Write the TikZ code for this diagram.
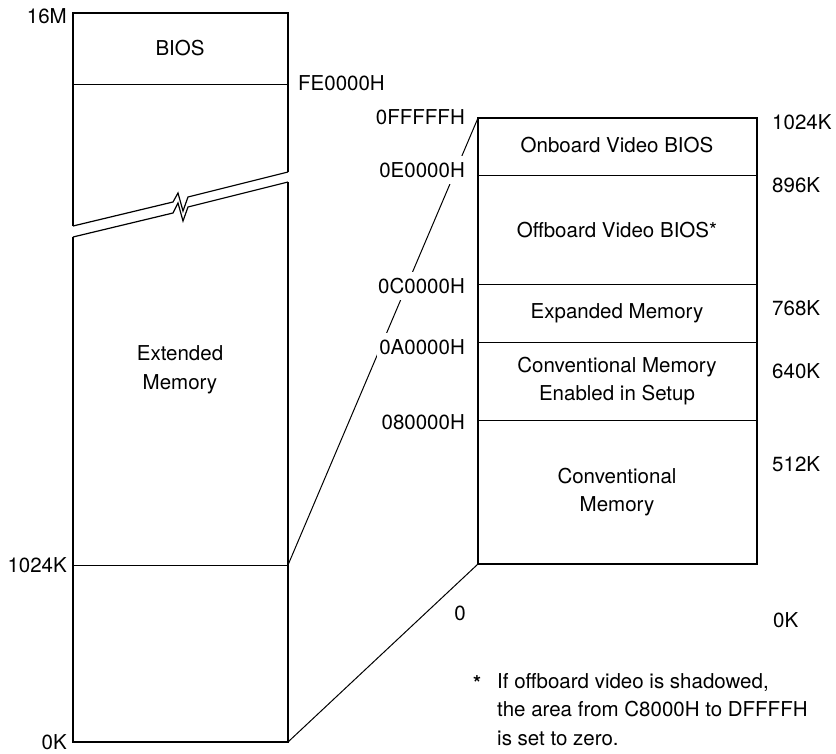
\documentclass[tikz,border=0pt]{standalone}
\usepackage{fontspec}
\setmainfont{TeX Gyre Heros}
\usetikzlibrary{positioning}
\newcommand{\memfont}{\fontsize{20.5}{28.5}\selectfont}
\tikzset{
  memframe/.style={line width=2.6pt, line join=miter},
  membreak/.style={line width=1.2pt, line join=miter},
  memdiv/.style={line width=0.8pt},
  memlink/.style={line width=1pt},
  memtext/.style={align=center, font=\memfont, inner sep=0pt},
  addrl/.style={anchor=east, font=\memfont, fill=white, inner xsep=2pt, inner ysep=6pt},
  addrr/.style={anchor=west, font=\memfont, inner sep=0pt},
}

\begin{document}
\begin{tikzpicture}[x=1pt, y=-1pt]
  \useasboundingbox (0,0) rectangle (836,753);
  % left column: 0K .. 16M, broken in the middle
  \draw[memframe] (73,226) -- (73,13) -- (288,13) -- (288,172);
  \draw[membreak] (73,226) -- (173,202) -- (178,193) -- (183,211) -- (188,197) -- (288,172);
  \draw[memframe] (73,237) -- (73,742) -- (288,742) -- (288,182);
  \draw[membreak] (73,237) -- (173,213) -- (178,203) -- (183,221) -- (188,207) -- (288,182);
  \draw[memdiv] (73,84) -- (288,84);
  \draw[memdiv] (73,565) -- (288,565);
  \coordinate (lk1024) at (288,565);
  \coordinate (lkzero) at (288,742);

  \node[memtext] (bios) at (180,48) {BIOS};
  \node[memtext] (ext) at (180,370) {Extended\\Memory};
  \node[anchor=east, font=\memfont, inner sep=0pt] (l16m) at (67,16) {16M};
  \node[anchor=east, font=\memfont, inner sep=0pt] (l1024) at (67,565) {1024K};
  \node[anchor=east, font=\memfont, inner sep=0pt] (lzero) at (67,742) {0K};
  \node[addrr] (fe) at (298,83) {FE0000H};

  % right column: first megabyte
  \draw[memframe] (478,118) rectangle (757,564);
  \foreach \yy in {175,284,342,420}
    \draw[memdiv] (478,\yy) -- (757,\yy);
  \coordinate (rtop) at (478,118);
  \coordinate (rbot) at (478,564);

  \node[memtext] (onb) at (617,145) {Onboard Video BIOS};
  \node[memtext] (offb) at (617,230) {Offboard Video BIOS*};
  \node[memtext] (expm) at (617,313) {Expanded Memory};
  \node[memtext] (cmset) at (617,381) {Conventional Memory\\Enabled in Setup};
  \node[memtext] (conv) at (617,492) {Conventional\\Memory};

  % zoom lines between the columns
  \draw[memlink] (lk1024) -- (rtop);
  \draw[memlink] (lkzero) -- (rbot);

  \node[addrl] (aff) at (467,117) {0FFFFFH};
  \node[addrl] (ae0) at (467,170) {0E0000H};
  \node[addrl] (ac0) at (467,286) {0C0000H};
  \node[addrl] (aa0) at (467,347) {0A0000H};
  \node[addrl] (a80) at (467,422) {080000H};
  \node[memtext] (azero) at (460,613) {0};

  \node[addrr] (k1024) at (772,122) {1024K};
  \node[addrr] (k896) at (772,185) {896K};
  \node[addrr] (k768) at (772,308) {768K};
  \node[addrr] (k640) at (772,371) {640K};
  \node[addrr] (k512) at (772,464) {512K};
  \node[addrr] (kzero) at (773,620) {0K};

  % footnote
  \node[anchor=base west, font=\memfont\bfseries, inner sep=0pt] (star) at (473,690) {*};
  \node[anchor=base west, font=\memfont, inner sep=0pt, align=left] (note) at (497,745)
    {If offboard video is shadowed,\\the area from C8000H to DFFFFH\\is set to zero.};
\end{tikzpicture}
\end{document}
